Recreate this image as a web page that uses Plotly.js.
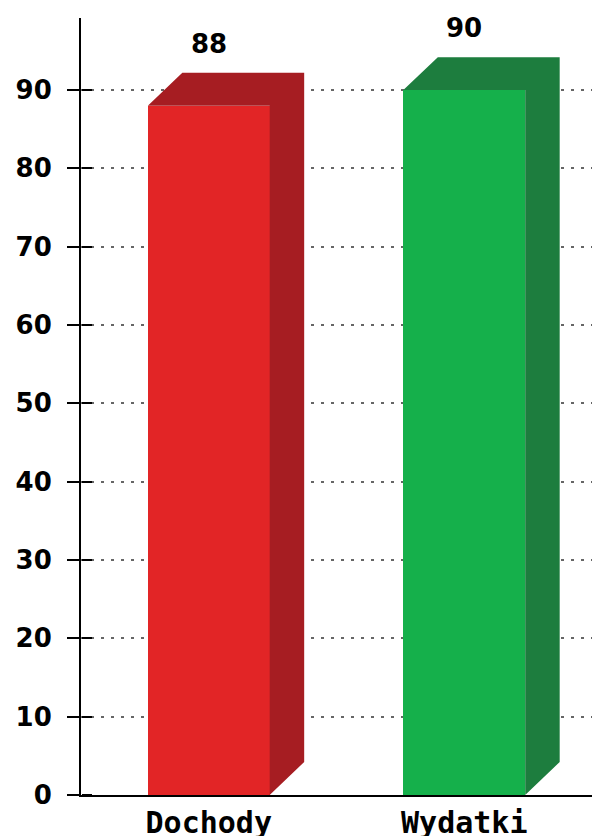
<!DOCTYPE html>
<html>
<head>
<meta charset="utf-8">
<script src="https://cdn.plot.ly/plotly-3.0.1.min.js"></script>
<style>html,body{margin:0;padding:0;background:#fff;}#chart{width:592px;height:836px;}</style>
</head>
<body>
<div id="chart"></div>
<script>
// Data
const categories = ["Dochody", "Wydatki"];
const values = [88, 90];
const frontColors = ["#e22526", "#15b04b"];
const sideColors = ["#a61d22", "#1d7d3e"];
const yTickValues = [0, 10, 20, 30, 40, 50, 60, 70, 80, 90];

// 3D geometry (in axis units)
const barWidth = 0.477;
const depthX = 0.135;
const depthY = 4.2;

const xIdx = categories.map((c, i) => i);

const traces = [];
traces.push({
  type: "bar",
  x: xIdx,
  y: values,
  width: barWidth,
  marker: {color: frontColors, line: {width: 0}},
  hoverinfo: "skip",
  showlegend: false
});

categories.forEach((c, i) => {
  const v = values[i];
  const xl = i - barWidth / 2, xr = i + barWidth / 2;
  traces.push({
    type: "scatter",
    mode: "lines",
    x: [xl, xl + depthX, xr + depthX, xr + depthX, xr, xr, xl],
    y: [v, v + depthY, v + depthY, depthY, 0, v, v],
    fill: "toself",
    fillcolor: sideColors[i],
    line: {width: 0, color: sideColors[i]},
    yaxis: "y2",
    hoverinfo: "skip",
    showlegend: false
  });
});

const annotations = categories.map((c, i) => ({
  x: i,
  y: values[i] + depthY,
  xref: "x",
  yref: "y",
  text: String(values[i]),
  showarrow: false,
  yanchor: "middle",
  yshift: 29,
  font: {family: "DejaVu Sans", size: 26, color: "#000", weight: "bold"}
}));

const yRange = [0, 99.2];

const layout = {
  width: 592,
  height: 836,
  margin: {l: 81, r: 0, t: 18, b: 41, pad: 0},
  paper_bgcolor: "#fff",
  plot_bgcolor: "#fff",
  showlegend: false,
  bargap: 0,
  xaxis: {
    range: [-0.5, 1.5],
    tickvals: xIdx,
    ticktext: categories,
    showgrid: false,
    zeroline: false,
    showline: true,
    linecolor: "#000",
    linewidth: 2,
    ticks: "",
    ticklabelstandoff: 0,
    tickfont: {family: "DejaVu Sans Mono", size: 30, color: "#000", weight: "bold"},
    fixedrange: true
  },
  yaxis: {
    range: yRange,
    tickvals: yTickValues,
    showgrid: true,
    gridcolor: "#666",
    gridwidth: 2,
    griddash: "3px,7px",
    zeroline: false,
    showline: true,
    linecolor: "#000",
    linewidth: 2,
    ticks: "outside",
    ticklen: 12,
    tickwidth: 2,
    tickcolor: "#000",
    ticklabelstandoff: 10,
    tickfont: {family: "DejaVu Sans", size: 26, color: "#000", weight: "bold"},
    fixedrange: true
  },
  yaxis2: {
    range: yRange,
    overlaying: "y",
    side: "right",
    anchor: "free",
    position: 0,
    tickvals: yTickValues,
    showgrid: false,
    zeroline: false,
    showline: false,
    showticklabels: false,
    ticks: "outside",
    ticklen: 10,
    tickwidth: 2,
    tickcolor: "#000",
    fixedrange: true
  },
  annotations: annotations
};

Plotly.newPlot("chart", traces, layout, {staticPlot: true, displayModeBar: false});
</script>
</body>
</html>
